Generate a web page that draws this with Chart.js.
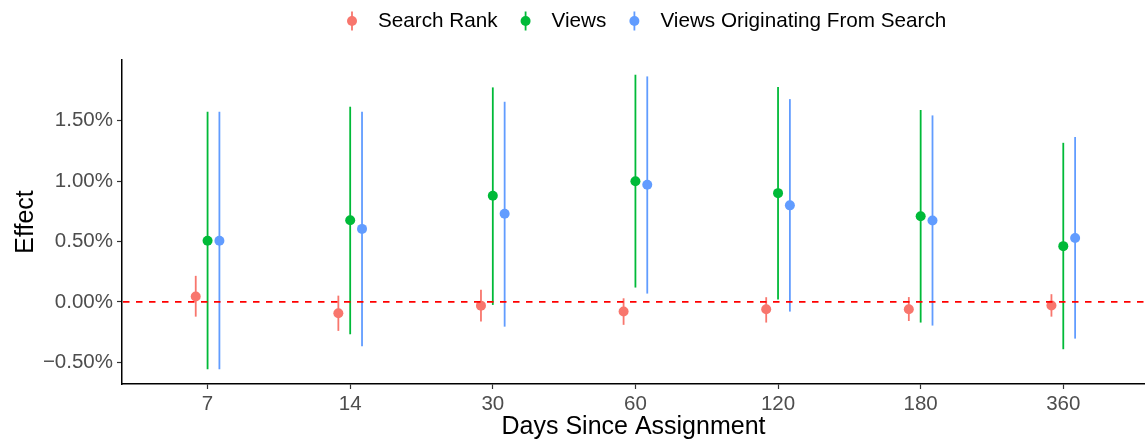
<!DOCTYPE html>
<html>
<head>
<meta charset="utf-8">
<script src="https://cdn.jsdelivr.net/npm/chart.js@4.4.0/dist/chart.umd.min.js"></script>
<style>
  html, body { margin: 0; padding: 0; background: #fff; }
  #wrap { width: 1145px; height: 443px; }
</style>
</head>
<body>
<div id="wrap"><canvas id="myChart"></canvas></div>
<script>
let days = ['7', '14', '30', '60', '120', '180', '360'];
let yTicks = [-0.5, 0, 0.5, 1.0, 1.5];
let refLine = 0;

let rankEst = [0.045, -0.094, -0.031, -0.080, -0.061, -0.061, -0.030];
let rankLo  = [-0.122, -0.240, -0.163, -0.190, -0.171, -0.158, -0.122];
let rankHi  = [0.216, 0.052, 0.100, 0.030, 0.039, 0.040, 0.064];

let viewsEst = [0.506, 0.677, 0.879, 1.000, 0.901, 0.710, 0.462];
let viewsLo  = [-0.558, -0.268, -0.025, 0.119, 0.020, -0.171, -0.392];
let viewsHi  = [1.575, 1.617, 1.777, 1.882, 1.780, 1.590, 1.318];

let searchEst = [0.506, 0.605, 0.730, 0.970, 0.800, 0.674, 0.530];
let searchLo  = [-0.558, -0.367, -0.205, 0.069, -0.080, -0.196, -0.304];
let searchHi  = [1.575, 1.575, 1.658, 1.868, 1.680, 1.545, 1.366];

let labels = ['Search Rank', 'Views', 'Views Originating From Search'];
let colorHex = ['#F8766D', '#00BA38', '#619CFF'];
let dodge = [-0.083, 0, 0.083];

function makeSet(i, est, lo, hi) {
  return {
    label: labels[i],
    data: est.map((v, k) => ({ x: k + 1 + dodge[i], y: v })),
    lo: lo,
    hi: hi,
    backgroundColor: colorHex[i],
    borderColor: colorHex[i],
    borderWidth: 0,
    pointRadius: 5,
    pointHoverRadius: 5
  };
}

// vertical ranges under the points, dashed zero line on top
let rangePlugin = {
  id: 'ranges',
  beforeDatasetsDraw(chart) {
    let ctx = chart.ctx;
    let xs = chart.scales.x, ys = chart.scales.y;
    ctx.save();
    ctx.lineWidth = 1.8;
    chart.data.datasets.forEach((ds) => {
      ctx.strokeStyle = ds.borderColor;
      ds.data.forEach((p, k) => {
        let x = xs.getPixelForValue(p.x);
        ctx.beginPath();
        ctx.moveTo(x, ys.getPixelForValue(ds.lo[k]));
        ctx.lineTo(x, ys.getPixelForValue(ds.hi[k]));
        ctx.stroke();
      });
    });
    ctx.restore();
  },
  afterDatasetsDraw(chart) {
    let ctx = chart.ctx;
    let area = chart.chartArea;
    let y0 = chart.scales.y.getPixelForValue(refLine);
    ctx.save();
    ctx.strokeStyle = '#FF0000';
    ctx.lineWidth = 1.6;
    ctx.setLineDash([6.5, 6.5]);
    ctx.beginPath();
    ctx.moveTo(area.left + 1, y0);
    ctx.lineTo(area.right, y0);
    ctx.stroke();
    ctx.restore();
  }
};

// ggplot style legend: point with a line through it
let legendPlugin = {
  id: 'ggLegend',
  afterDraw(chart) {
    let ctx = chart.ctx;
    ctx.save();
    ctx.font = '20.7px "Liberation Sans", Arial, sans-serif';
    ctx.textBaseline = 'middle';
    ctx.textAlign = 'left';
    let x = 352, y = 21;
    chart.data.datasets.forEach((ds) => {
      ctx.strokeStyle = ds.borderColor;
      ctx.fillStyle = ds.borderColor;
      ctx.lineWidth = 1.8;
      ctx.beginPath();
      ctx.moveTo(x, y - 9.5);
      ctx.lineTo(x, y + 9.5);
      ctx.stroke();
      ctx.beginPath();
      ctx.arc(x, y, 5, 0, Math.PI * 2);
      ctx.fill();
      ctx.fillStyle = '#000';
      ctx.fillText(ds.label, x + 26, y);
      x += 26 + ctx.measureText(ds.label).width + 28;
    });
    ctx.restore();
  }
};

let ctx1 = document.getElementById('myChart').getContext('2d');
let myChart = new Chart(ctx1, {
  type: 'scatter',
  data: {
    datasets: [
      makeSet(0, rankEst, rankLo, rankHi),
      makeSet(1, viewsEst, viewsLo, viewsHi),
      makeSet(2, searchEst, searchLo, searchHi)
    ]
  },
  options: {
    responsive: true,
    maintainAspectRatio: false,
    animation: false,
    devicePixelRatio: 1,
    layout: { autoPadding: false, padding: { top: 60, right: 0, bottom: 0, left: 0 } },
    plugins: {
      legend: { display: false },
      tooltip: { enabled: false }
    },
    scales: {
      x: {
        type: 'linear',
        min: 0.4,
        max: 7.573,
        afterBuildTicks: (axis) => { axis.ticks = days.map((d, i) => ({ value: i + 1 })); },
        afterFit: (axis) => { axis.height = 59; },
        ticks: {
          color: '#4D4D4D',
          font: { family: '"Liberation Sans", Arial, sans-serif', size: 20.5 },
          padding: 3,
          maxRotation: 0,
          callback: (v) => days[Math.round(v) - 1]
        },
        grid: { drawOnChartArea: false, drawTicks: true, tickLength: 5, tickColor: '#333333', tickWidth: 1.2 },
        border: { display: true, color: '#000000', width: 1.5 },
        title: {
          display: true,
          text: 'Days Since Assignment',
          color: '#000000',
          font: { family: '"Liberation Sans", Arial, sans-serif', size: 25 },
          padding: { top: 0, bottom: 1 }
        }
      },
      y: {
        min: -0.68,
        max: 2.004,
        afterBuildTicks: (axis) => { axis.ticks = yTicks.map((v) => ({ value: v })); },
        afterFit: (axis) => { axis.width = 122; },
        ticks: {
          color: '#4D4D4D',
          font: { family: '"Liberation Sans", Arial, sans-serif', size: 20.5 },
          padding: 4,
          callback: (v) => (v < 0 ? '\u2212' : '') + Math.abs(v).toFixed(2) + '%'
        },
        grid: { drawOnChartArea: false, drawTicks: true, tickLength: 5, tickColor: '#333333', tickWidth: 1.2 },
        border: { display: true, color: '#000000', width: 1.5 },
        title: {
          display: true,
          text: 'Effect',
          color: '#000000',
          font: { family: '"Liberation Sans", Arial, sans-serif', size: 25 },
          padding: { top: 11, bottom: 0 }
        }
      }
    }
  },
  plugins: [rangePlugin, legendPlugin]
});
</script>
</body>
</html>
